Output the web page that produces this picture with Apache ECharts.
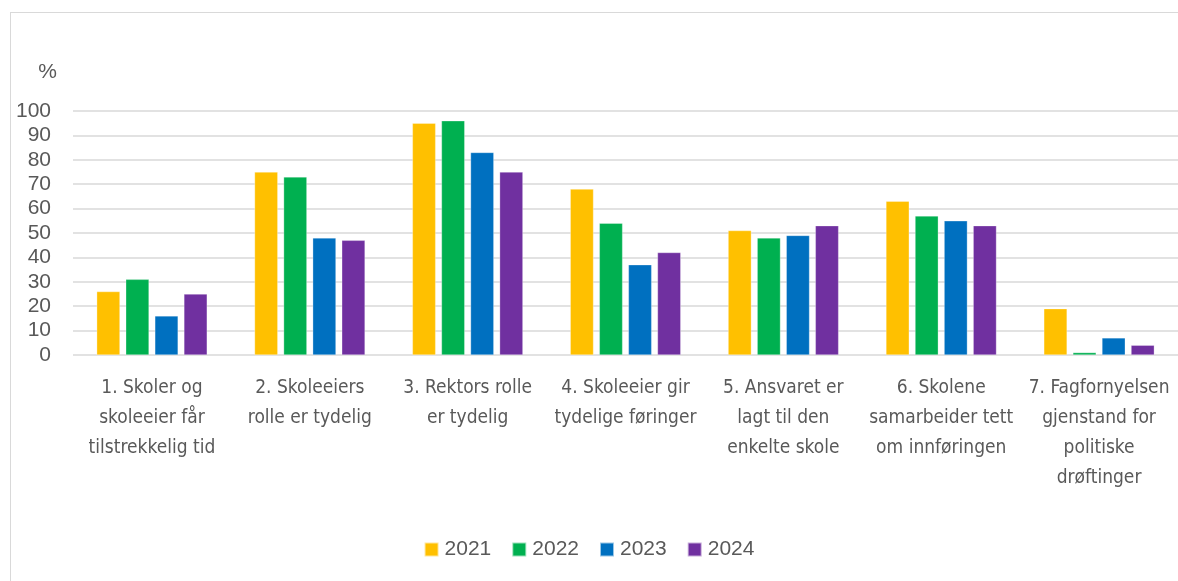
<!DOCTYPE html>
<html>
<head>
<meta charset="utf-8">
<script src="https://cdn.jsdelivr.net/npm/echarts@6/dist/echarts.min.js"></script>
<style>
  html, body { margin: 0; padding: 0; background: #fff; }
  #frame { position: absolute; left: 10px; top: 12px; width: 1200px; height: 600px; border: 1px solid #d9d9d9; box-sizing: border-box; }
  #chart { position: absolute; left: 0; top: 0; width: 1178px; height: 581px; }
</style>
</head>
<body>
<div id="frame"></div>
<div id="chart"></div>
<script>
var categories = [
  '1. Skoler og\nskoleeier får\ntilstrekkelig tid',
  '2. Skoleeiers\nrolle er tydelig',
  '3. Rektors rolle\ner tydelig',
  '4. Skoleeier gir\ntydelige føringer',
  '5. Ansvaret er\nlagt til den\nenkelte skole',
  '6. Skolene\nsamarbeider tett\nom innføringen',
  '7. Fagfornyelsen\ngjenstand for\npolitiske\ndrøftinger'
]
var years = ['2021', '2022', '2023', '2024']
var v2021 = [26, 75, 95, 68, 51, 63, 19]
var v2022 = [31, 73, 96, 54, 48, 57, 1]
var v2023 = [16, 48, 83, 37, 49, 55, 7]
var v2024 = [25, 47, 75, 42, 53, 53, 4]
var colors = ['#ffc000', '#00b050', '#0070c0', '#7030a0']

var values = [v2021, v2022, v2023, v2024]
var sansFont = '"Liberation Sans", Arial, sans-serif'
var chart = echarts.init(document.getElementById('chart'))
chart.setOption({
  animation: false,
  color: colors,
  grid: { left: 73, right: 0, top: 111, bottom: 226 },
  legend: {
    bottom: 16,
    left: 'center',
    itemWidth: 14,
    itemHeight: 14,
    itemGap: 20,
    icon: 'rect',
    textStyle: { color: '#595959', fontSize: 21, fontFamily: sansFont, padding: [0, 0, 0, 1] },
    data: years
  },
  xAxis: {
    type: 'category',
    data: categories,
    axisLine: { show: false },
    axisTick: { show: false },
    axisLabel: {
      interval: 0,
      margin: 18,
      lineHeight: 30,
      fontSize: 19,
      color: '#595959',
      fontFamily: '"Liberation Sans Narrow", "DejaVu Sans Condensed", Roboto, sans-serif'
    }
  },
  yAxis: {
    type: 'value',
    min: 0,
    max: 100,
    interval: 10,
    name: '%',
    nameGap: 28,
    nameTextStyle: { color: '#595959', fontSize: 21, fontFamily: sansFont, align: 'right', padding: [0, 16, 0, 0] },
    axisLabel: { color: '#595959', fontSize: 21, margin: 22, fontFamily: sansFont },
    splitLine: { lineStyle: { color: '#d9d9d9', width: 1.5 } }
  },
  series: years.map(function (y, i) {
    return {
      name: y,
      type: 'bar',
      data: values[i],
      barGap: '25%',
      barCategoryGap: '30%',
      itemStyle: { borderColor: 'rgba(255,255,255,0.6)', borderWidth: 0.5 }
    }
  })
})
</script>
</body>
</html>
